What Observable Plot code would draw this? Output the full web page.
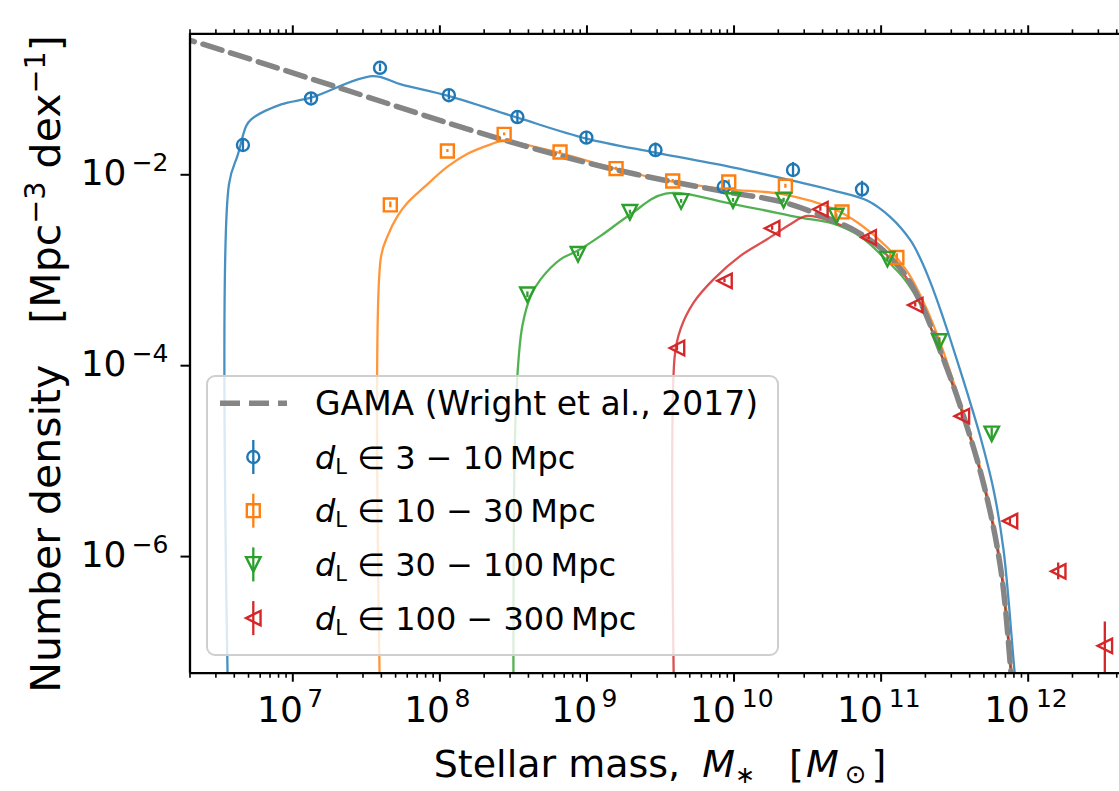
<!DOCTYPE html>
<html>
<head>
<meta charset="utf-8">
<script src="https://cdn.jsdelivr.net/npm/d3@7"></script>
<script src="https://cdn.jsdelivr.net/npm/@observablehq/plot@0.6"></script>
<style>
html, body { margin: 0; padding: 0; overflow: hidden; background: #fff; }
#wrap { width: 1119px; height: 791px; overflow: hidden; position: relative; }
#wrap svg { max-width: none !important; width: 1131px !important; height: 791px !important; display: block; }
</style>
</head>
<body>
<div id="wrap"></div>
<script>
// ---------- data (log10 units) ----------
// observed points, d_L in 3-10 Mpc
const blueLogM   = [6.661, 7.124, 7.593, 8.061, 8.527, 8.996, 9.466, 9.930, 10.401, 10.870];
const blueLogPhi = [-1.688, -1.200, -0.879, -1.166, -1.395, -1.611, -1.741, -2.128, -1.950, -2.152];
const blueErr    = [0.063, 0.05, 0.04, 0.05, 0.063, 0.068, 0.073, 0.05, 0.078, 0.084];
// 10-30 Mpc
const orangeLogM   = [7.663, 8.051, 8.437, 8.817, 9.198, 9.583, 9.964, 10.349, 10.734, 11.107];
const orangeLogPhi = [-2.316, -1.751, -1.576, -1.761, -1.935, -2.065, -2.075, -2.120, -2.389, -2.866];
const orangeErr    = [0.03, 0.015, 0.015, 0.015, 0.015, 0.015, 0.02, 0.02, 0.025, 0.04];
// 30-100 Mpc
const greenLogM   = [8.595, 8.939, 9.292, 9.640, 9.993, 10.337, 10.695, 11.043, 11.396, 11.752];
const greenLogPhi = [-3.257, -2.832, -2.392, -2.279, -2.269, -2.267, -2.431, -2.884, -3.747, -4.714];
const greenErr    = [0.03, 0.025, 0.02, 0.02, 0.02, 0.02, 0.02, 0.025, 0.04, 0.06];
// 100-300 Mpc
const redLogM   = [9.612, 9.935, 10.259, 10.587, 10.915, 11.232, 11.549, 11.876, 12.204, 12.521];
const redLogPhi = [-3.815, -3.111, -2.560, -2.361, -2.657, -3.365, -4.529, -5.628, -6.155, -6.935];
const redErrHi  = [0.03, 0.02, 0.02, 0.02, 0.02, 0.02, 0.03, 0.04, 0.087, 0.25];
const redErrLo  = [0.03, 0.02, 0.02, 0.02, 0.02, 0.02, 0.03, 0.04, 0.087, 0.6];

// model curves
const blueModelLogM   = [6.566, 6.566, 6.627, 6.683, 6.717, 6.921, 7.124, 7.543, 7.735, 8.063, 8.528, 8.996, 9.466, 9.998, 10.405, 10.676, 10.905, 11.063, 11.200, 11.268, 11.336, 11.404, 11.472, 11.587, 11.676, 11.764, 11.832, 11.900, 11.935];
const blueModelLogPhi = [-8, -2.099, -1.786, -1.490, -1.419, -1.262, -1.192, -0.967, -1.053, -1.176, -1.402, -1.621, -1.768, -1.925, -2.065, -2.165, -2.270, -2.444, -2.688, -2.882, -3.129, -3.417, -3.731, -4.291, -4.752, -5.297, -5.926, -7.078, -7.717];
const orangeModelLogM   = [7.599, 7.599, 7.645, 7.713, 7.781, 7.893, 8.052, 8.188, 8.346, 8.426, 8.822, 9.206, 9.591, 9.953, 10.335, 10.676, 10.859, 11.041, 11.186, 11.302, 11.404, 11.533, 11.703, 11.818, 11.885, 11.91];
const orangeModelLogPhi = [-8, -2.866, -2.640, -2.431, -2.291, -2.130, -1.915, -1.780, -1.681, -1.646, -1.775, -1.942, -2.075, -2.152, -2.204, -2.356, -2.521, -2.759, -3.034, -3.380, -3.768, -4.365, -5.234, -6.115, -7.163, -7.72];
const greenModelLogM   = [8.500, 8.509, 8.530, 8.561, 8.618, 8.686, 8.822, 8.935, 9.093, 9.297, 9.534, 9.998, 10.451, 10.676, 10.859, 11.016, 11.166, 11.281, 11.383, 11.526, 11.696, 11.812, 11.880, 11.907];
const greenModelLogPhi = [-8, -4.871, -4.035, -3.582, -3.268, -3.093, -2.884, -2.797, -2.640, -2.413, -2.197, -2.309, -2.448, -2.513, -2.647, -2.863, -3.107, -3.400, -3.788, -4.375, -5.244, -6.115, -7.163, -7.72];
const redModelLogM   = [9.597, 9.597, 9.636, 9.726, 9.862, 10.043, 10.225, 10.383, 10.496, 10.676, 10.905, 11.166, 11.281, 11.383, 11.526, 11.696, 11.812, 11.880, 11.907];
const redModelLogPhi = [-8, -3.895, -3.616, -3.337, -3.093, -2.849, -2.675, -2.518, -2.431, -2.497, -2.662, -3.066, -3.391, -3.778, -4.370, -5.234, -6.115, -7.163, -7.72];
// GAMA (Wright et al. 2017)
const gamaLogM   = [6.2, 6.321, 7.3, 8.346, 9.181, 9.908, 10.336, 10.676, 10.846, 11.016, 11.166, 11.281, 11.383, 11.526, 11.696, 11.812, 11.880, 11.907];
const gamaLogPhi = [-0.55, -0.600, -1.081, -1.594, -1.942, -2.169, -2.288, -2.479, -2.605, -2.794, -3.055, -3.380, -3.768, -4.365, -5.234, -6.115, -7.163, -7.72];

// ticks
const xMajorExp = [7, 8, 9, 10, 11, 12];
const yMajorExp = [-2, -4, -6];
const seriesLabels = ["3 \u2212 10", "10 \u2212 30", "30 \u2212 100", "100 \u2212 300"];

// ---------- build ----------
const C = {blue: "#1f77b4", orange: "#ff7f0e", green: "#2ca02c", red: "#d62728"};
const xDomain = [2e6, 5e12], yDomain = [6e-8, 0.3];

const obs = (lm, lp, lo, hi) => lm.map((m, i) => ({
  M: 10 ** m, phi: 10 ** lp[i], lo: 10 ** (lp[i] - lo[i]), hi: 10 ** (lp[i] + hi[i])
}));
const blueObs = obs(blueLogM, blueLogPhi, blueErr, blueErr);
const orangeObs = obs(orangeLogM, orangeLogPhi, orangeErr, orangeErr);
const greenObs = obs(greenLogM, greenLogPhi, greenErr, greenErr);
const redObs = obs(redLogM, redLogPhi, redErrLo, redErrHi);
const curve = (lm, lp) => lm.map((m, i) => ({M: 10 ** m, phi: 10 ** lp[i]}));

// matplotlib-like triangles (width = height)
const triDown = {draw(ctx, size) { const h = Math.sqrt(size / Math.PI) * 1.25;
  ctx.moveTo(-h, -h); ctx.lineTo(h, -h); ctx.lineTo(0, h); ctx.closePath(); }};
const triLeft = {draw(ctx, size) { const h = Math.sqrt(size / Math.PI) * 1.25;
  ctx.moveTo(-h, 0); ctx.lineTo(h, -h); ctx.lineTo(h, h); ctx.closePath(); }};

const xMinor = [];
for (let k = 6; k <= 12; k++) for (let m = 2; m <= 9; m++) {
  const v = m * 10 ** k; if (v >= xDomain[0] && v <= xDomain[1]) xMinor.push(v);
}

const modelLine = (data, color) => Plot.line(data, {x: "M", y: "phi", stroke: color, strokeWidth: 2.3, strokeOpacity: 0.82, curve: "catmull-rom", clip: true});
const errBars = (data, color) => Plot.ruleX(data, {x: "M", y1: "lo", y2: "hi", stroke: color, strokeWidth: 2.3, clip: true});
const dots = (data, color, symbol, r) => Plot.dot(data, {x: "M", y: "phi", symbol, r, stroke: color, strokeWidth: 2.4, fill: "none"});

const exp1 = xMajorExp.filter(e => e < 10), exp2 = xMajorExp.filter(e => e >= 10);
const yBottom = yDomain[0], xLeft = xDomain[0];

const chart = Plot.plot({
  width: 1131, height: 791,
  marginLeft: 189.5, marginRight: 0.5, marginTop: 33.3, marginBottom: 118.3,
  style: {fontFamily: "DejaVu Sans", background: "white", color: "black"},
  x: {type: "log", domain: xDomain, axis: null},
  y: {type: "log", domain: yDomain, axis: null},
  marks: [
    modelLine(curve(blueModelLogM, blueModelLogPhi), C.blue),
    modelLine(curve(orangeModelLogM, orangeModelLogPhi), C.orange),
    modelLine(curve(greenModelLogM, greenModelLogPhi), C.green),
    modelLine(curve(redModelLogM, redModelLogPhi), C.red),
    Plot.line(curve(gamaLogM, gamaLogPhi), {x: "M", y: "phi", stroke: "#858585", strokeWidth: 5.5, strokeDasharray: "20,9", curve: "catmull-rom", clip: true}),
    errBars(blueObs, C.blue), errBars(orangeObs, C.orange), errBars(greenObs, C.green), errBars(redObs, C.red),
    dots(blueObs, C.blue, "circle", 6),
    dots(orangeObs, C.orange, "square", 7.3),
    dots(greenObs, C.green, triDown, 5.8),
    dots(redObs, C.red, triLeft, 5.8),
    // spines
    Plot.ruleX([xDomain[0]], {stroke: "black", strokeWidth: 2.3}),
    Plot.ruleY([yDomain[0]], {stroke: "black", strokeWidth: 2.3}),
    Plot.ruleY([yDomain[1]], {stroke: "black", strokeWidth: 2.3}),
    // ticks
    Plot.axisX(xMajorExp.map(e => 10 ** e), {anchor: "bottom", tickSize: 9, strokeWidth: 2, tickFormat: () => "", label: null}),
    Plot.axisX(xMinor, {anchor: "bottom", tickSize: 5, strokeWidth: 1.6, tickFormat: () => "", label: null}),
    Plot.axisX(xMajorExp.map(e => 10 ** e), {anchor: "top", tickSize: 9, strokeWidth: 2, tickFormat: () => "", label: null}),
    Plot.axisX(xMinor, {anchor: "top", tickSize: 5, strokeWidth: 1.6, tickFormat: () => "", label: null}),
    Plot.axisY(yMajorExp.map(e => 10 ** e), {anchor: "left", tickSize: 9, strokeWidth: 2, tickFormat: () => "", label: null}),
    // tick labels 10^n
    Plot.text(exp1, {x: e => 10 ** e, y: () => yBottom, lineAnchor: "middle", text: () => "10", textAnchor: "start", dx: -35.7, dy: 37.3, fontSize: 36, fill: "black"}),
    Plot.text(exp1, {x: e => 10 ** e, y: () => yBottom, lineAnchor: "middle", text: e => String(e), textAnchor: "start", dx: 14.5, dy: 26, fontSize: 25, fill: "black"}),
    Plot.text(exp2, {x: e => 10 ** e, y: () => yBottom, lineAnchor: "middle", text: () => "10", textAnchor: "start", dx: -44, dy: 37.3, fontSize: 36, fill: "black"}),
    Plot.text(exp2, {x: e => 10 ** e, y: () => yBottom, lineAnchor: "middle", text: e => String(e), textAnchor: "start", dx: 7.7, dy: 26, fontSize: 25, fill: "black"}),
    Plot.text(yMajorExp, {x: () => xLeft, y: e => 10 ** e, lineAnchor: "middle", text: () => "10", textAnchor: "end", dx: -63.5, dy: -1.5, fontSize: 36, fill: "black"}),
    Plot.text(yMajorExp, {x: () => xLeft, y: e => 10 ** e, lineAnchor: "middle", text: e => "\u2212" + Math.abs(e), textAnchor: "end", dx: -21.5, dy: -11.5, fontSize: 25, fill: "black"})
  ]
});
document.getElementById("wrap").appendChild(chart);

// ---------- axis labels & legend ----------
const svg = d3.select(chart);
const ff = "DejaVu Sans";

const xl = svg.append("text").attr("x", 660).attr("y", 776.5).attr("text-anchor", "middle")
  .attr("font-family", ff).attr("font-size", 38).attr("fill", "black");
xl.append("tspan").text("Stellar mass,");
xl.append("tspan").attr("dx", 22).attr("font-style", "italic").text("M");
xl.append("tspan").attr("font-size", 24).attr("dy", 6).text("\u2217");
xl.append("tspan").attr("dx", 34).attr("dy", -6).text("[");
xl.append("tspan").attr("font-style", "italic").attr("dx", 2).text("M");
xl.append("tspan").attr("font-size", 26).attr("dx", 6).attr("dy", 6).text("\u2299");
xl.append("tspan").attr("dx", 5).attr("dy", -6).text("]");

const yl = svg.append("text").attr("transform", "translate(59.5,364) rotate(-90)").attr("text-anchor", "middle")
  .attr("font-family", ff).attr("font-size", 41).attr("fill", "black");
yl.append("tspan").text("Number density\u2002\u2002[Mpc");
yl.append("tspan").attr("font-size", 28.7).attr("dy", -15).text("\u22123");
yl.append("tspan").attr("dy", 15).text(" dex");
yl.append("tspan").attr("font-size", 28.7).attr("dy", -15).text("\u22121");
yl.append("tspan").attr("dy", 15).text("]");

const lg = svg.append("g").attr("font-family", ff).attr("font-size", 32).attr("text-anchor", "start");
lg.append("rect").attr("x", 207).attr("y", 376).attr("width", 571).attr("height", 279).attr("rx", 8)
  .attr("fill", "white").attr("fill-opacity", 0.8).attr("stroke", "#cfcfcf").attr("stroke-width", 2);
const rows = [403.3, 457, 510.7, 564.4, 618.1];
lg.append("line").attr("x1", 220).attr("x2", 287).attr("y1", rows[0]).attr("y2", rows[0])
  .attr("stroke", "#858585").attr("stroke-width", 5.5).attr("stroke-dasharray", "20,9");
lg.append("text").attr("x", 315).attr("y", rows[0] + 11.5).attr("text-anchor", "start").attr("font-size", 33).attr("fill", "black").text("GAMA (Wright et al., 2017)");
const legSyms = [
  [C.blue, d3.symbolCircle, 6],
  [C.orange, d3.symbolSquare, 7.3],
  [C.green, triDown, 5.8],
  [C.red, triLeft, 5.8]
];
legSyms.forEach(([col, sym, r], i) => {
  const y = rows[i + 1];
  lg.append("line").attr("x1", 253.3).attr("x2", 253.3).attr("y1", y - 17).attr("y2", y + 17)
    .attr("stroke", col).attr("stroke-width", 2.3);
  lg.append("path").attr("d", d3.symbol(sym, Math.PI * r * r)()).attr("transform", `translate(253.3,${y})`)
    .attr("fill", "none").attr("stroke", col).attr("stroke-width", 2.4);
  const t = lg.append("text").attr("x", 315).attr("y", y + 11.5).attr("text-anchor", "start").attr("fill", "black");
  t.append("tspan").attr("font-style", "italic").text("d");
  t.append("tspan").attr("font-size", 21).attr("dy", 5).text("L");
  t.append("tspan").attr("dy", -5).text(" \u2208 " + seriesLabels[i] + "\u2009Mpc");
});
</script>
</body>
</html>
